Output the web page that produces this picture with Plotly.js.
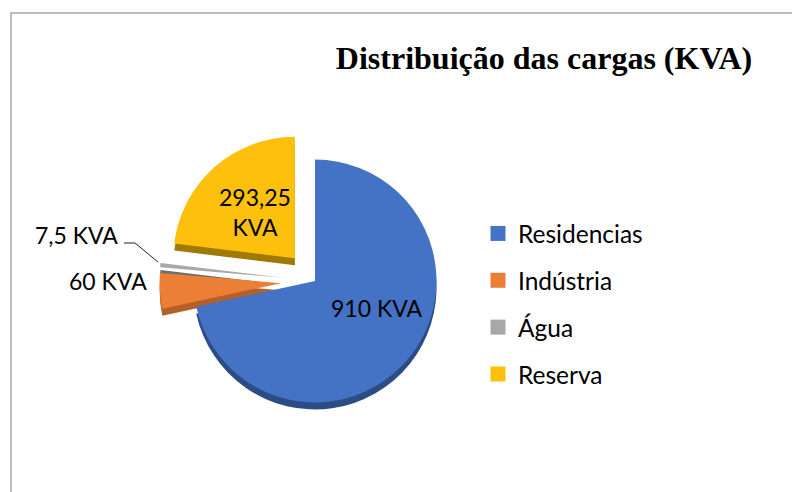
<!DOCTYPE html>
<html>
<head>
<meta charset="utf-8">
<script src="https://cdn.plot.ly/plotly-3.0.1.min.js"></script>
<style>html,body{margin:0;padding:0;background:#fff}#c{width:792px;height:492px}</style>
</head>
<body>
<div id="c"></div>
<script>
const categories = ["Residencias", "Indústria", "Água", "Reserva"];
const values = [910, 60, 7.5, 293.25];
const pulls = [0, 0.28, 0.28, 0.25];
const faceColors = ["#4472C4", "#EA7F35", "#A8A8A8", "#FDC00C"];
const sideColors = ["#2C4C85", "#B4602A", "#6E6E6E", "#A07A00"];
const unit = "KVA";
const W = 792, H = 492;
const CX = 315, CY = 281, SIZE = 311, DEPTH = 7;
const px = x => x / W, py = y => 1 - y / H;
const fmt = v => String(v).replace(".", ",") + " " + unit;
const dom = dy => ({
  x: [px(CX - SIZE / 2), px(CX + SIZE / 2)],
  y: [py(CY + dy + SIZE / 2), py(CY + dy - SIZE / 2)]
});
const pieBase = {
  type: "pie", labels: categories, values: values, pull: pulls, sort: false,
  direction: "clockwise", rotation: 0, textinfo: "none", showlegend: false
};
const traces = [
  Object.assign({}, pieBase, {domain: dom(DEPTH), marker: {colors: sideColors, line: {width: 0}}, hoverinfo: "skip"}),
  Object.assign({}, pieBase, {domain: dom(0), marker: {colors: faceColors, line: {width: 0}}, hoverinfo: "label+value"})
];
categories.forEach((c, i) => traces.push({
  type: "scatter", mode: "markers", x: [null], y: [null], name: c, legendgroup: c,
  marker: {symbol: "square", size: 15, color: faceColors[i]}, showlegend: true
}));
const labelFont = {family: "Lato, 'Open Sans', sans-serif", size: 23, color: "#000"};
const ann = (text, x, y) => ({text, x: px(x), y: py(y), xref: "paper", yref: "paper",
  xanchor: "center", yanchor: "middle", showarrow: false, font: labelFont, align: "center"});
const layout = {
  width: W, height: H, margin: {l: 0, r: 0, t: 0, b: 0},
  paper_bgcolor: "#fff", plot_bgcolor: "#fff",
  title: {text: "<b>Distribuição das cargas (KVA)</b>", x: px(544), xanchor: "center", y: py(58), yanchor: "middle",
    font: {family: "'Liberation Serif', serif", size: 32, color: "#000"}},
  xaxis: {visible: false}, yaxis: {visible: false},
  legend: {x: px(478), xanchor: "left", y: py(211), yanchor: "top", traceorder: "grouped", tracegroupgap: 12,
    font: {family: labelFont.family, size: 24.5, color: "#000"}, bgcolor: "rgba(0,0,0,0)"},
  annotations: [
    ann(fmt(values[0]), 376, 308),
    ann(String(values[3]).replace(".", ",") + "<br>" + unit, 255, 212),
    ann(fmt(values[1]), 108, 281),
    ann(fmt(values[2]), 76, 235)
  ],
  shapes: [
    {type: "path", xref: "paper", yref: "paper", line: {color: "#A6A6A6", width: 1.5},
     path: `M ${px(11)} 0 L ${px(11)} ${py(13)} L 1 ${py(13)}`},
    {type: "path", xref: "paper", yref: "paper", line: {color: "#222", width: 1},
     path: `M ${px(124)} ${py(243)} L ${px(135)} ${py(243)} L ${px(158)} ${py(262)}`}
  ]
};
Plotly.newPlot("c", traces, layout, {displayModeBar: false, staticPlot: true});
</script>
</body>
</html>
